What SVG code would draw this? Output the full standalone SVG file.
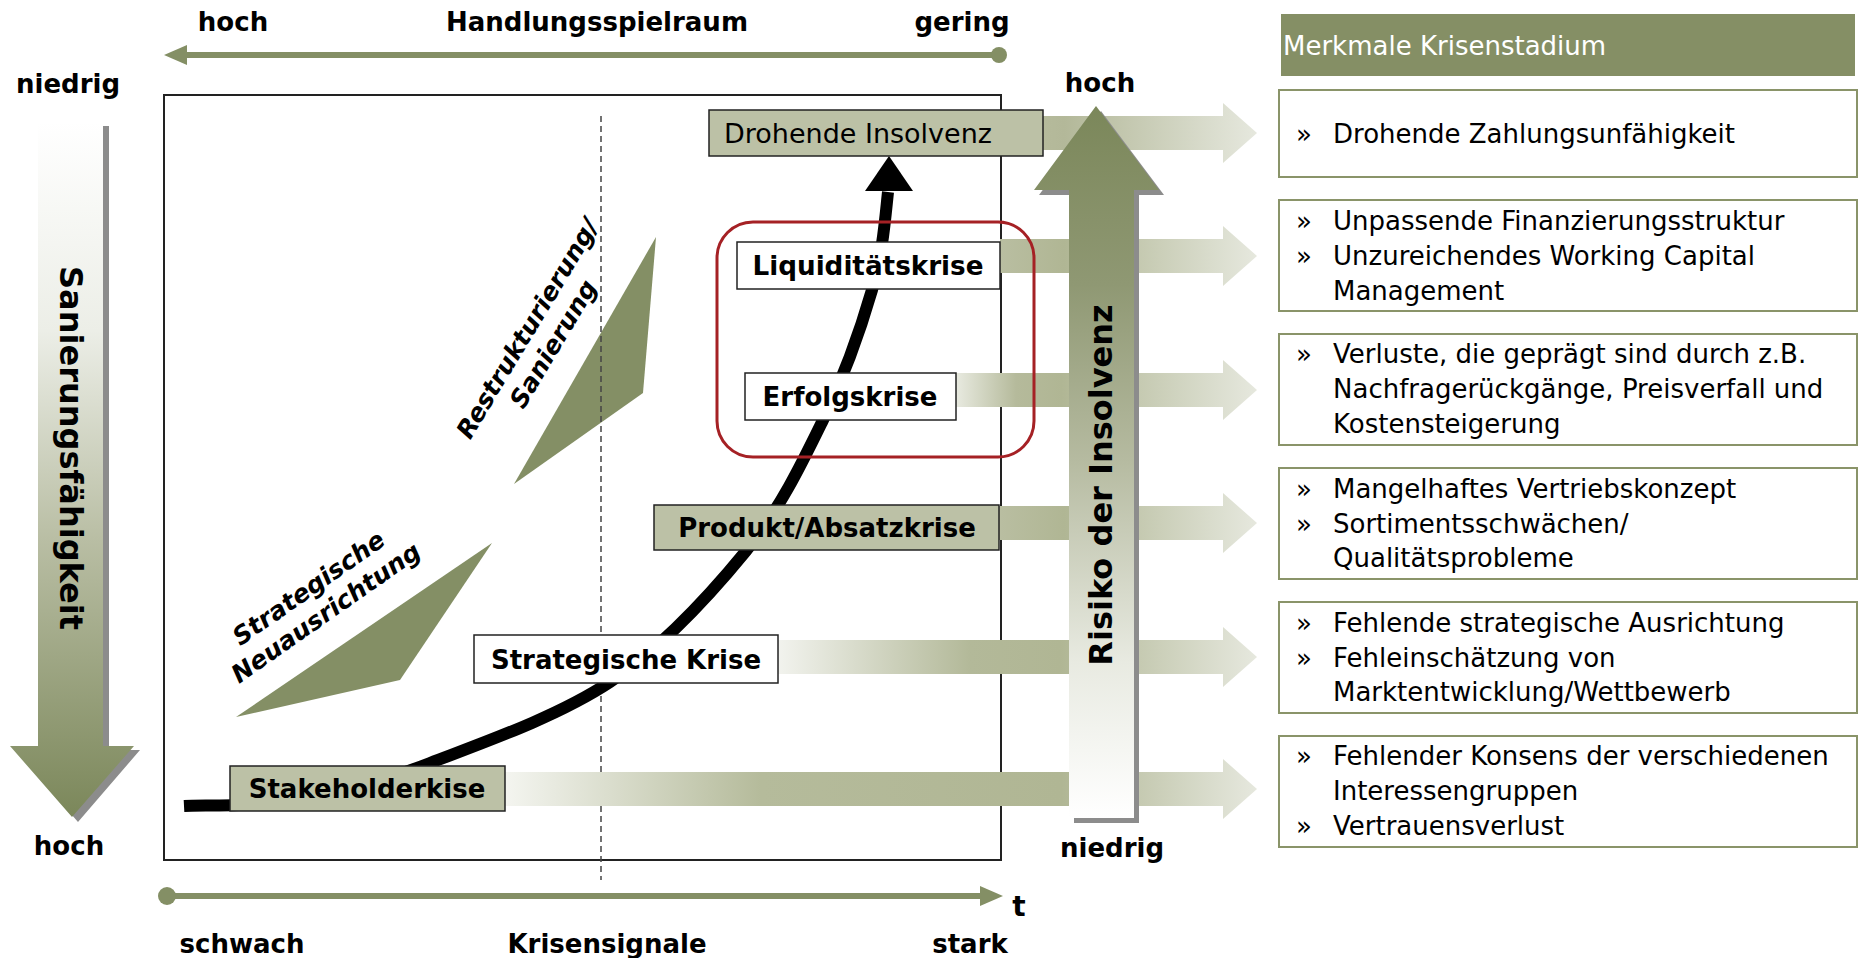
<svg xmlns="http://www.w3.org/2000/svg" width="1862" height="958" viewBox="0 0 1862 958">
<style>
text{font-family:"DejaVu Sans",Verdana,sans-serif;fill:#000}
.ax{font-weight:bold;font-size:26px;text-anchor:middle}
.bl{font-weight:bold;font-size:26px;text-anchor:middle}
.wl{font-weight:bold;font-style:italic;font-size:25px;text-anchor:middle}
.rt{font-size:26px}
.big{font-weight:bold;font-size:32px;text-anchor:middle;dominant-baseline:central}
.olbox{fill:#bcc1a6;stroke:#222;stroke-width:1.5}
.wbox{fill:#fff;stroke:#222;stroke-width:1.5}
.rbox{fill:#fff;stroke:#8a9469;stroke-width:2}
.axis{stroke:#848f65;stroke-width:6;fill:none}
.olive{fill:#848f65}
.shadow{fill:#8c8c8c}
</style>
<defs>
<linearGradient id="gLeft" gradientUnits="userSpaceOnUse" x1="0" y1="122" x2="0" y2="817">
<stop offset="0" stop-color="#ffffff"/><stop offset="0.3" stop-color="#eceee7"/><stop offset="0.6" stop-color="#b9bea4"/><stop offset="1" stop-color="#7b875a"/>
</linearGradient>
<linearGradient id="gRisk" gradientUnits="userSpaceOnUse" x1="0" y1="106" x2="0" y2="818">
<stop offset="0" stop-color="#7b875a"/><stop offset="0.25" stop-color="#8f9873"/><stop offset="0.5" stop-color="#b6bba1"/><stop offset="0.78" stop-color="#e8eae1"/><stop offset="1" stop-color="#ffffff"/>
</linearGradient>
<linearGradient id="r1" gradientUnits="userSpaceOnUse" x1="1043" y1="0" x2="1257" y2="0">
<stop offset="0" stop-color="#b5ba9b"/><stop offset="0.1" stop-color="#b3b899"/><stop offset="1" stop-color="#e6e8de"/>
</linearGradient>
<linearGradient id="r2" gradientUnits="userSpaceOnUse" x1="1000" y1="0" x2="1257" y2="0">
<stop offset="0" stop-color="#b9bea1"/><stop offset="0.25" stop-color="#b0b694"/><stop offset="1" stop-color="#e6e8de"/>
</linearGradient>
<linearGradient id="r3" gradientUnits="userSpaceOnUse" x1="956" y1="0" x2="1257" y2="0">
<stop offset="0" stop-color="#e8eae0"/><stop offset="0.2" stop-color="#b5ba9b"/><stop offset="0.35" stop-color="#b0b694"/><stop offset="1" stop-color="#e6e8de"/>
</linearGradient>
<linearGradient id="r5" gradientUnits="userSpaceOnUse" x1="778" y1="0" x2="1257" y2="0">
<stop offset="0" stop-color="#f2f3ee"/><stop offset="0.4" stop-color="#b3b999"/><stop offset="0.59" stop-color="#b0b694"/><stop offset="1" stop-color="#e6e8de"/>
</linearGradient>
<linearGradient id="r6" gradientUnits="userSpaceOnUse" x1="505" y1="0" x2="1257" y2="0">
<stop offset="0" stop-color="#f4f5f0"/><stop offset="0.34" stop-color="#b5bb9b"/><stop offset="0.74" stop-color="#b0b694"/><stop offset="1" stop-color="#e6e8de"/>
</linearGradient>
</defs>

<rect width="1862" height="958" fill="#fff"/>

<!-- axis labels -->
<g id="axis-labels">
<text class="ax" x="233" y="31">hoch</text>
<text class="ax" x="597" y="31">Handlungsspielraum</text>
<text class="ax" x="962" y="31">gering</text>
<text class="ax" x="68" y="93">niedrig</text>
<text class="ax" x="69" y="855">hoch</text>
<text class="ax" x="1100" y="92">hoch</text>
<text class="ax" x="1112" y="857">niedrig</text>
<text class="ax" x="242" y="953">schwach</text>
<text class="ax" x="607" y="953">Krisensignale</text>
<text class="ax" x="970" y="953">stark</text>
<text class="ax" x="1019" y="916" style="font-size:28px">t</text>
</g>

<!-- frame -->
<g id="frame">
<rect x="164" y="95" width="837" height="765" fill="#fff" stroke="#222" stroke-width="2"/>
</g>

<!-- wedges -->
<g id="wedge-restrukturierung">
<polygon class="olive" points="656,237 643,393 514,484"/>
</g>
<g id="wedge-neuausrichtung">
<polygon class="olive" points="492,543 400,680 236,717"/>
</g>

<!-- dashed line -->
<line x1="601" y1="116" x2="601" y2="880" stroke="#444" stroke-width="1.5" stroke-dasharray="6,4"/>

<g id="label-restrukturierung" transform="translate(540,336) rotate(-59)">
<text class="wl" x="0" y="-6">Restrukturierung/</text>
<text class="wl" x="0" y="24">Sanierung</text>
</g>
<g id="label-neuausrichtung" transform="translate(317,600) rotate(-35)">
<text class="wl" x="0" y="-6">Strategische</text>
<text class="wl" x="0" y="24">Neuausrichtung</text>
</g>

<!-- connectors -->
<g id="connectors">
<path d="M184,806 C203,805 259,807 300,800 C341,793 378,783 430,763 C482,743 557,717 610,682 C663,647 710,595 746,551 C781,507 802,463 823,420 C844,376 861,328 872,290 C883,251 885,220 888,192" fill="none" stroke="#000" stroke-width="12"/>
<polygon points="865,191 913,191 889,156" fill="#000"/>
<line class="axis" x1="184" y1="55" x2="999" y2="55"/>
<polygon class="olive" points="164,55 187,45 187,65"/>
<circle class="olive" cx="999" cy="55" r="8"/>
<line class="axis" x1="167" y1="896" x2="984" y2="896"/>
<circle class="olive" cx="167" cy="896" r="9"/>
<polygon class="olive" points="1003,896 980,886 980,906"/>
</g>

<!-- row arrows -->
<g id="row-arrows">
<path fill="url(#r1)" d="M1043,116 L1223,116 L1223,103 L1257,133 L1223,163 L1223,150 L1043,150 Z"/>
<path fill="url(#r2)" d="M1000,239 L1223,239 L1223,226 L1257,256 L1223,286 L1223,273 L1000,273 Z"/>
<path fill="url(#r3)" d="M956,373 L1223,373 L1223,360 L1257,390 L1223,420 L1223,407 L956,407 Z"/>
<path fill="url(#r2)" d="M999,506 L1223,506 L1223,493 L1257,523 L1223,553 L1223,540 L999,540 Z"/>
<path fill="url(#r5)" d="M778,640 L1223,640 L1223,627 L1257,657 L1223,687 L1223,674 L778,674 Z"/>
<path fill="url(#r6)" d="M505,772 L1223,772 L1223,759 L1257,789 L1223,819 L1223,806 L505,806 Z"/>
</g>

<!-- left big arrow -->
<g id="arrow-sanierung">
<path class="shadow" d="M44,126 L109,126 L109,750 L140,750 L78,822 L16,750 L44,750 Z"/>
<path fill="url(#gLeft)" d="M38,122 L103,122 L103,746 L134,746 L72,817 L10,746 L38,746 Z"/>
<text class="big" transform="translate(71,448) rotate(90)">Sanierungsfähigkeit</text>
</g>

<!-- risk arrow -->
<g id="arrow-risiko">
<path class="shadow" d="M1101,111 L1164,195 L1139,195 L1139,823 L1074,823 L1074,195 L1039,195 Z"/>
<path fill="url(#gRisk)" d="M1096,106 L1159,190 L1134,190 L1134,818 L1069,818 L1069,190 L1034,190 Z"/>
<text class="big" transform="translate(1101,485) rotate(-90)">Risiko der Insolvenz</text>
</g>

<!-- crisis stage boxes -->
<g id="node-drohende-insolvenz">
<rect class="olbox" x="709" y="110" width="334" height="46"/>
<text class="rt" x="724" y="143" textLength="268" lengthAdjust="spacingAndGlyphs">Drohende Insolvenz</text>
</g>
<g id="node-liquiditaetskrise">
<rect class="wbox" x="737" y="242" width="263" height="47"/>
<text class="bl" x="868" y="275" textLength="231" lengthAdjust="spacingAndGlyphs">Liquiditätskrise</text>
</g>
<g id="node-erfolgskrise">
<rect class="wbox" x="745" y="373" width="211" height="47"/>
<text class="bl" x="850" y="406">Erfolgskrise</text>
</g>
<g id="node-produktkrise">
<rect class="olbox" x="654" y="505" width="345" height="45"/>
<text class="bl" x="827" y="537">Produkt/Absatzkrise</text>
</g>
<g id="node-strategische-krise">
<rect class="wbox" x="474" y="635" width="304" height="48"/>
<text class="bl" x="626" y="669">Strategische Krise</text>
</g>
<g id="node-stakeholderkrise">
<rect class="olbox" x="230" y="766" width="275" height="45"/>
<text class="bl" x="367" y="798">Stakeholderkise</text>
</g>

<!-- red highlight -->
<g id="highlight">
<rect x="717" y="222" width="317" height="235" rx="36" ry="36" fill="none" stroke="#a52125" stroke-width="3"/>
</g>

<!-- right column -->
<g id="header">
<rect x="1281" y="14" width="574" height="62" fill="#858f65"/>
<text class="rt" x="1283" y="55" style="fill:#fff">Merkmale Krisenstadium</text>
</g>
<g id="merkmal-1">
<rect class="rbox" x="1279" y="90" width="578" height="87"/>
<text class="rt" x="1296" y="143">»</text>
<text class="rt" x="1333" y="143">Drohende Zahlungsunfähigkeit</text>
</g>
<g id="merkmal-2">
<rect class="rbox" x="1279" y="200" width="578" height="111"/>
<text class="rt" x="1296" y="230">»</text>
<text class="rt" x="1333" y="230">Unpassende Finanzierungsstruktur</text>
<text class="rt" x="1296" y="265">»</text>
<text class="rt" x="1333" y="265">Unzureichendes Working Capital</text>
<text class="rt" x="1333" y="300">Management</text>
</g>
<g id="merkmal-3">
<rect class="rbox" x="1279" y="334" width="578" height="111"/>
<text class="rt" x="1296" y="363">»</text>
<text class="rt" x="1333" y="363">Verluste, die geprägt sind durch z.B.</text>
<text class="rt" x="1333" y="398">Nachfragerückgänge, Preisverfall und</text>
<text class="rt" x="1333" y="433">Kostensteigerung</text>
</g>
<g id="merkmal-4">
<rect class="rbox" x="1279" y="468" width="578" height="111"/>
<text class="rt" x="1296" y="498">»</text>
<text class="rt" x="1333" y="498">Mangelhaftes Vertriebskonzept</text>
<text class="rt" x="1296" y="533">»</text>
<text class="rt" x="1333" y="533">Sortimentsschwächen/</text>
<text class="rt" x="1333" y="567">Qualitätsprobleme</text>
</g>
<g id="merkmal-5">
<rect class="rbox" x="1279" y="602" width="578" height="111"/>
<text class="rt" x="1296" y="632">»</text>
<text class="rt" x="1333" y="632">Fehlende strategische Ausrichtung</text>
<text class="rt" x="1296" y="667">»</text>
<text class="rt" x="1333" y="667">Fehleinschätzung von</text>
<text class="rt" x="1333" y="701">Marktentwicklung/Wettbewerb</text>
</g>
<g id="merkmal-6">
<rect class="rbox" x="1279" y="736" width="578" height="111"/>
<text class="rt" x="1296" y="765">»</text>
<text class="rt" x="1333" y="765">Fehlender Konsens der verschiedenen</text>
<text class="rt" x="1333" y="800">Interessengruppen</text>
<text class="rt" x="1296" y="835">»</text>
<text class="rt" x="1333" y="835">Vertrauensverlust</text>
</g>
</svg>
